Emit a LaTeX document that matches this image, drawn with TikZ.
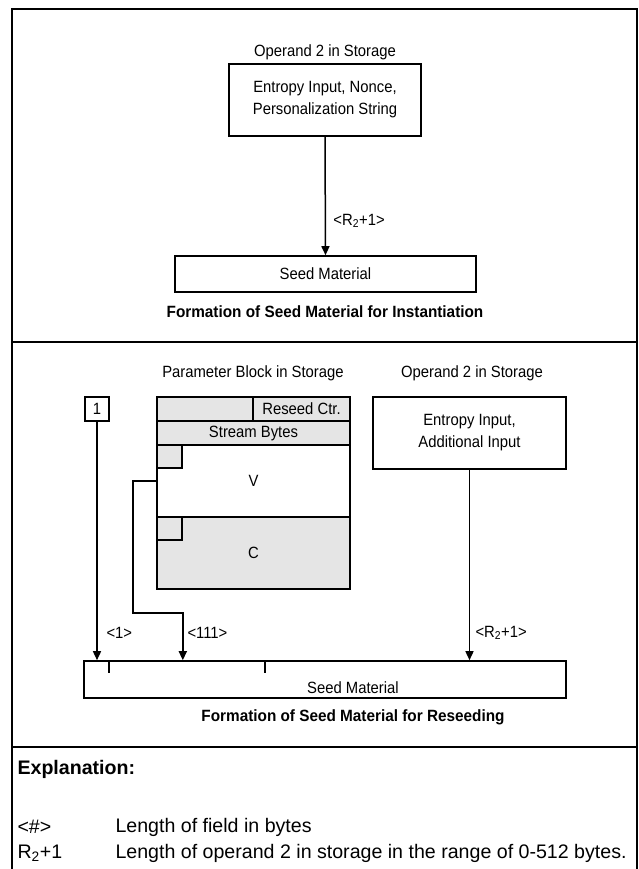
\documentclass[tikz,border=0pt]{standalone}
\usepackage{fontspec}
\setmainfont{Liberation Sans}
\newfontfamily\narrowsans[FakeStretch=0.91]{Liberation Sans}
\newfontfamily\titlesans[FakeStretch=0.94]{Liberation Sans}
\usetikzlibrary{arrows.meta}
\definecolor{blockfill}{gray}{0.9}

\begin{document}
\begin{tikzpicture}[x=1pt, y=-1pt,
    box/.style={draw, line width=1.6pt, inner sep=0pt, align=center,
        font=\narrowsans\fontsize{16.3}{22}\selectfont},
    cell/.style={box, fill=blockfill},
    lbl/.style={font=\narrowsans\fontsize{16.3}{19}\selectfont},
    ttl/.style={font=\titlesans\fontsize{16.3}{19}\selectfont\bfseries},
    expl/.style={font=\fontsize{19.6}{23}\selectfont, anchor=west},
    feed/.style={line width=1.5pt, -{Triangle[length=9pt,width=8pt]}}]

\useasboundingbox (0,0) rectangle (639,869);

% Frame and dividers
\draw[line width=1.6pt] (12,9) rectangle (637,880);
\draw[line width=1.6pt] (12,342) -- (637,342);
\draw[line width=1.6pt] (12,747) -- (637,747);

% Instantiation
\node[lbl] (opA) at (325,52) {Operand 2 in Storage};
\node[box, minimum width=192pt, minimum height=72pt] (entA) at (325,100)
    {Entropy Input, Nonce,\\Personalization String};
\node[box, minimum width=301pt, minimum height=36pt] (seedA) at (325.5,274) {Seed Material};
\draw[feed] (entA.south) -- (seedA.north)
    node[pos=0.71, right=4pt, lbl] {<R\textsubscript{2}+1>};
\node[ttl] (ttlA) at (325,312) {Formation of Seed Material for Instantiation};

% Reseeding
\node[lbl] (pbB) at (253,373) {Parameter Block in Storage};
\node[lbl] (opB) at (472,373) {Operand 2 in Storage};

\node[box, minimum width=24pt, minimum height=24pt] (one) at (97,409) {1};

% parameter block
\node[cell, minimum width=96pt, minimum height=24pt] (rsp) at (205,409) {};
\node[cell, minimum width=97pt, minimum height=24pt] (rsc) at (301.5,409) {Reseed Ctr.};
\node[cell, minimum width=193pt, minimum height=24pt] (sb) at (253.5,433) {Stream Bytes};
\node[box, minimum width=193pt, minimum height=72pt] (vv) at (253.5,481) {V};
\node[cell, minimum width=193pt, minimum height=72pt] (cc) at (253.5,553) {C};
\node[cell, minimum width=25pt, minimum height=23pt] (vk) at (169.5,456.5) {};
\node[cell, minimum width=25pt, minimum height=23pt] (ck) at (169.5,528.5) {};

\node[box, minimum width=193pt, minimum height=72pt] (entB) at (469.5,433)
    {Entropy Input,\\Additional Input};

\node[box, minimum width=482pt, minimum height=37pt] (seedB) at (325,679.5) {};
\node[lbl] (seedBtxt) at (353,688) {Seed Material};
\draw[line width=1.5pt] (109,661) -- (109,673);
\draw[line width=1.5pt] (265,661) -- (265,673);

\coordinate (vbend) at (133,613);
\draw[feed] (one.south) -- (one.south |- seedB.north);
\draw[feed] (vv.west) -| (vbend) -| (vk.east |- seedB.north);
\draw[feed] (entB.south) -- (entB.south |- seedB.north);
\node[lbl, anchor=west] at (103,633) {<1>};
\node[lbl, anchor=west] at (184,633) {<111>};
\node[lbl, anchor=west] at (472,633) {<R\textsubscript{2}+1>};

\node[ttl] (ttlB) at (353,717) {Formation of Seed Material for Reseeding};

% Explanation
\node[expl, font=\fontsize{19.6}{23}\selectfont\bfseries] (exh) at (14,769) {Explanation:};
\node[expl] (k1) at (14,827) {<\#>};
\node[expl] (d1) at (112,827) {Length of field in bytes};
\node[expl] (k2) at (14,853) {R\textsubscript{2}+1};
\node[expl] (d2) at (112,853) {Length of operand 2 in storage in the range of 0-512 bytes.};

\end{tikzpicture}
\end{document}
